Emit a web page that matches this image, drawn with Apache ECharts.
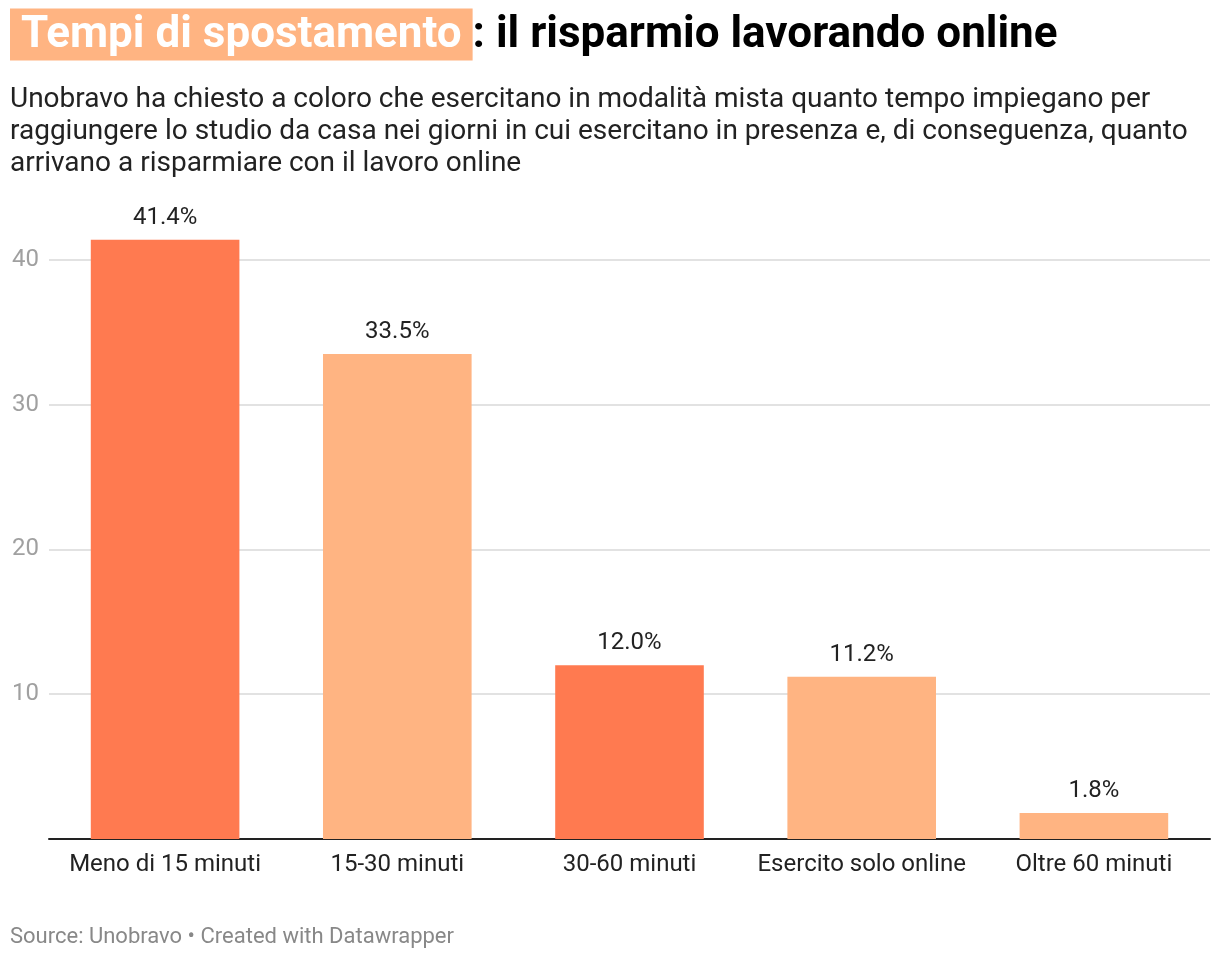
<!DOCTYPE html>
<html>
  <head>
    <meta charset="utf-8" />
    <title>Tempi di spostamento</title>
    <script src="https://cdn.jsdelivr.net/npm/echarts@6/dist/echarts.min.js"></script>
    <style>
      html,
      body,
      #chart {
        padding: 0;
        margin: 0;
        width: 1220px;
        height: 960px;
        background: #fff;
      }
    </style>
  </head>
  <body>
    <div id="chart"></div>
    <script>
      // data
      var categories = [
        "Meno di 15 minuti",
        "15-30 minuti",
        "30-60 minuti",
        "Esercito solo online",
        "Oltre 60 minuti"
      ];
      var values = [41.4, 33.5, 12.0, 11.2, 1.8];
      var highlighted = [true, false, true, false, false];

      var DARK = "#FF7A50";
      var LIGHT = "#FFB482";
      var FONT = "Roboto";

      var barData = values.map(function (v, i) {
        return { value: v, itemStyle: { color: highlighted[i] ? DARK : LIGHT } };
      });

      var myChart = echarts.init(document.getElementById("chart"));
      var option = {
        backgroundColor: "#fff",
        animation: false,
        textStyle: { fontFamily: FONT },
        title: [
          {
            left: 10,
            top: 10,
            padding: 0,
            text: "{h| Tempi di spostamento }{t|: il risparmio lavorando online}",
            textStyle: {
              rich: {
                h: {
                  fontFamily: FONT,
                  fontWeight: "bold",
                  fontSize: 44,
                  color: "#fff",
                  backgroundColor: LIGHT,
                  lineHeight: 49,
                  height: 49,
                  padding: [3, 0, 0, 0]
                },
                t: {
                  fontFamily: FONT,
                  fontWeight: "bold",
                  fontSize: 44,
                  color: "#000",
                  lineHeight: 49,
                  padding: [3, 0, 0, 0]
                }
              }
            }
          },
          {
            left: 10,
            top: 84,
            padding: 0,
            text:
              "Unobravo ha chiesto a coloro che esercitano in modalità mista quanto tempo impiegano per\n" +
              "raggiungere lo studio da casa nei giorni in cui esercitano in presenza e, di conseguenza, quanto\n" +
              "arrivano a risparmiare con il lavoro online",
            textStyle: {
              fontFamily: FONT,
              fontWeight: "normal",
              fontSize: 28,
              lineHeight: 32,
              color: "#222"
            }
          },
          {
            left: 10,
            top: 926,
            padding: 0,
            text: "Source: Unobravo • Created with Datawrapper",
            textStyle: {
              fontFamily: FONT,
              fontWeight: "normal",
              fontSize: 22,
              color: "#888"
            }
          }
        ],
        grid: {
          left: 49,
          right: 10,
          top: 187.6,
          bottom: 121,
          containLabel: false
        },
        xAxis: {
          type: "category",
          data: categories,
          axisLine: { show: true, lineStyle: { color: "#222", width: 2 } },
          axisTick: { show: false },
          axisLabel: {
            interval: 0,
            margin: 14,
            fontFamily: FONT,
            fontSize: 24,
            color: "#222"
          }
        },
        yAxis: {
          type: "value",
          min: 0,
          max: 45,
          interval: 10,
          axisLine: { show: false },
          axisTick: { show: false },
          axisLabel: {
            margin: 10,
            fontFamily: FONT,
            fontSize: 24,
            color: "#A0A0A0",
            showMaxLabel: false,
            formatter: function (v) {
              return v === 0 ? "" : v;
            }
          },
          splitLine: {
            show: true,
            lineStyle: {
              color: ["transparent", "#E2E2E2", "#E2E2E2", "#E2E2E2", "#E2E2E2", "transparent"],
              width: 2
            }
          }
        },
        series: [
          {
            type: "bar",
            data: barData,
            barWidth: "64%",
            label: {
              show: true,
              position: "top",
              distance: 10,
              fontFamily: FONT,
              fontSize: 24,
              color: "#222",
              formatter: function (p) {
                return p.value.toFixed(1) + "%";
              }
            }
          }
        ]
      };
      myChart.setOption(option);
    </script>
  </body>
</html>
